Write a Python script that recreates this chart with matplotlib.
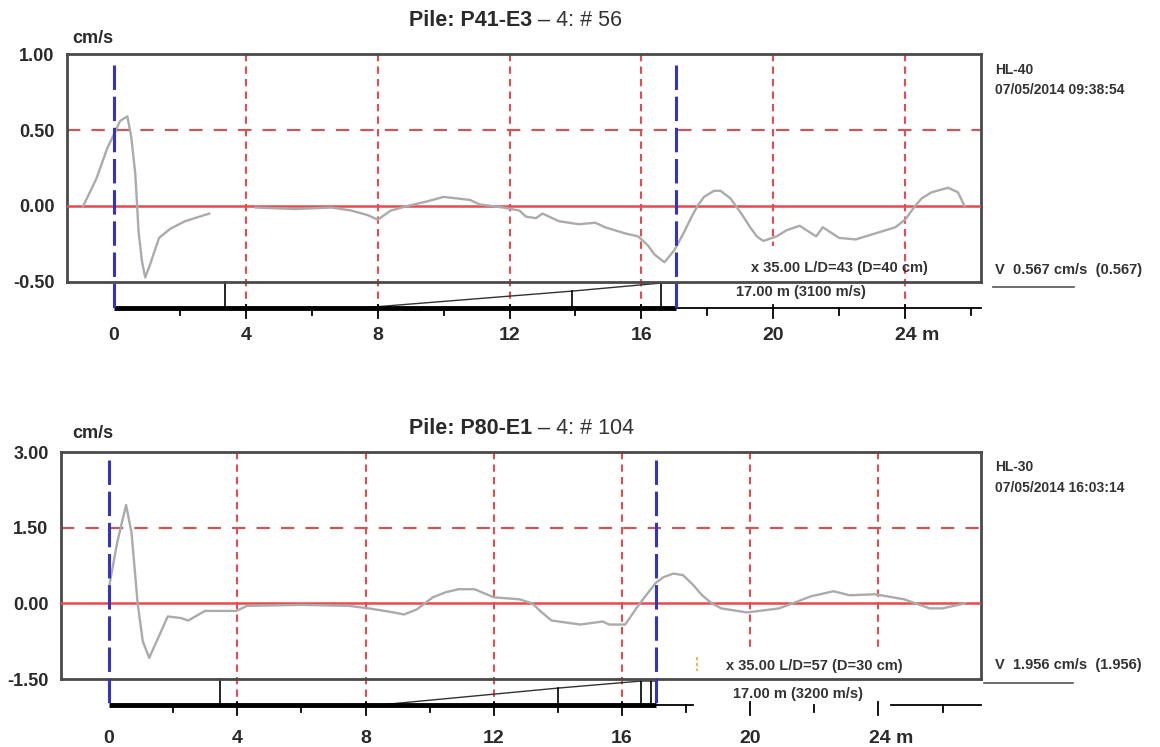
"""Two pile integrity (PIT) velocity traces, redrawn in matplotlib."""
import matplotlib
matplotlib.use("Agg")
import matplotlib.pyplot as plt
import numpy as np
from matplotlib.lines import Line2D

plt.rcParams["font.family"] = ["Liberation Sans", "DejaVu Sans"]

# ---------------------------------------------------------------- data ----
# top trace: P41-E3 (depth m, velocity cm/s); NaN = gap in the trace
top_x = [-0.93, -0.53, -0.2, 0.0, 0.19, 0.41, 0.53, 0.65, 0.75, 0.85, 0.95,
         1.09, 1.37, 1.71, 2.16, 2.89, np.nan, 4.3, 5.5, 6.6, 7.2, 7.7, 8.0,
         8.4, 8.9, 9.5, 10.0, 10.8, 11.1, 11.8, 12.3, 12.5, 12.8, 13.0, 13.5,
         14.1, 14.6, 14.9, 15.5, 15.9, 16.2, 16.4, 16.7, 17.0, 17.3, 17.5,
         17.7, 17.9, 18.2, 18.4, 18.7, 19.0, 19.3, 19.5, 19.7, 20.1, 20.4,
         20.8, 21.3, 21.5, 22.0, 22.5, 23.1, 23.7, 24.0, 24.3, 24.5, 24.8,
         25.3, 25.6, 25.8]
top_v = [0.0, 0.18, 0.38, 0.47, 0.56, 0.59, 0.45, 0.21, -0.17, -0.36, -0.47,
         -0.39, -0.21, -0.15, -0.10, -0.05, np.nan, -0.01, -0.02, -0.01, -0.03,
         -0.06, -0.09, -0.03, 0.0, 0.03, 0.06, 0.04, 0.01, -0.01, -0.03, -0.07,
         -0.08, -0.05, -0.10, -0.12, -0.11, -0.14, -0.18, -0.20, -0.26, -0.32,
         -0.37, -0.29, -0.17, -0.08, 0.0, 0.06, 0.10, 0.10, 0.05, -0.04,
         -0.14, -0.20, -0.23, -0.20, -0.16, -0.13, -0.20, -0.14, -0.21, -0.22,
         -0.18, -0.14, -0.09, 0.0, 0.05, 0.09, 0.12, 0.09, 0.0]

# bottom trace: P80-E1
bot_x = [0.0, 0.25, 0.53, 0.7, 0.89, 1.05, 1.25, 1.45, 1.83, 2.23, 2.47,
         2.99, 3.97, 4.3, 6.0, 7.5, 8.1, 8.7, 9.2, 9.6, 10.1, 10.5, 10.9, 11.4,
         12.0, 12.8, 13.2, 13.5, 13.8, 14.7, 15.4, 15.6, 16.1, 16.5, 16.8,
         17.06, 17.3, 17.6, 17.9, 18.2, 18.5, 18.8, 19.1, 19.9, 20.9, 21.9,
         22.6, 23.1, 23.9, 24.8, 25.6, 26.0, 26.7]
bot_v = [0.33, 1.2, 1.95, 1.4, 0.0, -0.75, -1.08, -0.8, -0.26, -0.29, -0.34,
         -0.15, -0.15, -0.05, -0.03, -0.05, -0.10, -0.16, -0.22, -0.12, 0.12,
         0.22, 0.28, 0.28, 0.12, 0.08, 0.0, -0.18, -0.34, -0.42, -0.36, -0.42,
         -0.42, -0.05, 0.2, 0.41, 0.52, 0.59, 0.56, 0.38, 0.16, 0.0, -0.10,
         -0.18, -0.10, 0.14, 0.24, 0.16, 0.18, 0.08, -0.10, -0.10, 0.0]

# pile profile sketch drawn under each box (depth m, value in axis units)
top_profile_x = [7.5, 13.9, 16.6, 17.06]
top_profile_v = [-0.671, -0.56, -0.507, -0.507]
top_drops = [3.37, 13.9, 16.6]
bot_profile_x = [8.5, 14.0, 16.6, 17.06]
bot_profile_v = [-2.01, -1.68, -1.54, -1.54]
bot_drops = [3.47, 14.0, 16.6, 16.9]

grid_depths = [4, 8, 12, 16, 20, 24]
ruler_labels = ["0", "4", "8", "12", "16", "20", "24 m"]
ruler_label_pos = [0, 4, 8, 12, 16, 20, 24]
toe_depth = 17.06

top_yticks = [1.00, 0.50, 0.00, -0.50]
bot_yticks = [3.00, 1.50, 0.00, -1.50]

RED = "#e64b50"
GRID_H = "#c65a5a"
BLUE = "#3434c4"
BOX = "#4a4a4a"
TRACE = "#ababab"
TXT = "#2a2a2a"

fig = plt.figure(figsize=(11.6, 7.47), dpi=100)

panels = [
    dict(rect=[0.0578, 0.6225, 0.7879, 0.3052], xlim=(-1.42, 26.3),
         ylim=(-0.5, 1.0), yticks=top_yticks, hline=0.5, ruler=-0.671,
         blue_top=0.93, x=top_x, v=top_v, px=top_profile_x, pv=top_profile_v,
         drops=top_drops, grid_stop={20: -0.26},
         name="Pile: P41-E3", tail=" – 4: # 56", title_y=0.972, unit_y=0.949,
         hl="HL-40", date="07/05/2014 09:38:54", hl_y=0.906, date_y=0.880,
         vtxt="V  0.567 cm/s  (0.567)", v_y=0.639, ul_y=0.616,
         ul_x=(0.856, 0.926),
         ld="x 35.00 L/D=43 (D=40 cm)", ld_xy=(22.0, -0.41),
         len_txt="17.00 m (3100 m/s)", len_xy=(20.85, -0.566),
         ruler_gap=None, mark=None, lab_off=-20),
    dict(rect=[0.0526, 0.0910, 0.7931, 0.3039], xlim=(-1.5, 27.2),
         ylim=(-1.5, 3.0), yticks=bot_yticks, hline=1.5, ruler=-2.01,
         blue_top=2.84, x=bot_x, v=bot_v, px=bot_profile_x, pv=bot_profile_v,
         drops=bot_drops, grid_stop={20: -0.91, 24: -0.91},
         name="Pile: P80-E1", tail=" – 4: # 104", title_y=0.427, unit_y=0.420,
         hl="HL-30", date="07/05/2014 16:03:14", hl_y=0.375, date_y=0.347,
         vtxt="V  1.956 cm/s  (1.956)", v_y=0.110, ul_y=0.0857,
         ul_x=(0.848, 0.925),
         ld="x 35.00 L/D=57 (D=30 cm)", ld_xy=(22.0, -1.24),
         len_txt="17.00 m (3200 m/s)", len_xy=(21.5, -1.80),
         ruler_gap=(18.2, 24.4), mark=(18.35, -1.07, -1.34), lab_off=-24),
]

for p in panels:
    ax = fig.add_axes(p["rect"])
    ax.set_xlim(*p["xlim"])
    ax.set_ylim(*p["ylim"])
    for s in ax.spines.values():
        s.set_color(BOX)
        s.set_linewidth(2)
    ax.set_xticks([])
    ax.set_yticks(p["yticks"])
    ax.set_yticklabels([f"{t:.2f}" for t in p["yticks"]], fontsize=13,
                       fontweight="bold", color=TXT)
    ax.tick_params(axis="y", length=0, pad=9)
    ymin, ymax = p["ylim"]
    span = ymax - ymin
    r = p["ruler"]
    xmax = p["xlim"][1]

    # grid
    ax.axhline(p["hline"], color=GRID_H, lw=1.6, dashes=(6, 5))
    for g in grid_depths:
        lo = p["grid_stop"].get(g, r)
        ax.plot([g, g], [ymax, lo], color=RED, lw=1.5, dashes=(3.5, 2.5),
                clip_on=False, zorder=2)
    ax.axhline(0, color=RED, lw=1.8, zorder=3)

    # trace
    ax.plot(p["x"], p["v"], color=TRACE, lw=1.7, zorder=4)

    # ruler / pile sketch under the box
    ax.plot([0, toe_depth], [r, r], color="black", lw=3.5, clip_on=False,
            solid_capstyle="butt", zorder=5)
    if p["ruler_gap"] is None:
        ax.plot([toe_depth, xmax], [r, r], color="black", lw=1.3,
                clip_on=False)
    else:
        a, b = p["ruler_gap"]
        ax.plot([toe_depth, a], [r, r], color="black", lw=1.3, clip_on=False)
        ax.plot([b, xmax], [r, r], color="black", lw=1.3, clip_on=False)
    ax.plot(p["px"], p["pv"], color="#333333", lw=1.0, clip_on=False)
    for d in p["drops"]:
        top = ymin if d < 5 else np.interp(d, p["px"], p["pv"])
        ax.plot([d, d], [top, r], color="black", lw=1.2, clip_on=False)
    for t in np.arange(2, xmax, 2):
        major = t % 4 == 0
        ln = 0.045 if major else 0.03
        ax.plot([t, t], [r + (0.012 * span if major else 0), r - ln * span],
                color="black", lw=1.3, clip_on=False)
    for lab, pos in zip(ruler_labels, ruler_label_pos):
        unit = lab.endswith("m")
        ax.annotate(lab, xy=(pos, r), xytext=(-7 if unit else 0, p["lab_off"]),
                    textcoords="offset points", ha="left" if unit else "center",
                    va="center", fontsize=14, fontweight="bold", color=TXT,
                    annotation_clip=False)

    # impact / toe markers
    for d in (0, toe_depth):
        ax.plot([d, d], [p["blue_top"], r], color=BLUE, lw=2.2,
                dashes=(8, 2.2), clip_on=False, zorder=6)

    # annotations inside/under the box
    ax.text(*p["ld_xy"], p["ld"], ha="center", va="center", fontsize=10.5,
            fontweight="bold", color="#333333")
    ax.text(*p["len_xy"], p["len_txt"], ha="center", va="center",
            fontsize=10.5, fontweight="bold", color="#333333", clip_on=False)
    if p["mark"]:
        mx, m0, m1 = p["mark"]
        ax.plot([mx, mx], [m0, m1], color="#e3a64a", lw=1.2, dashes=(2, 1.5))

    # header and side texts
    fig.text(0.459, p["title_y"], p["name"], ha="right", va="center",
             fontsize=15.5, fontweight="bold", color=TXT)
    fig.text(0.459, p["title_y"], p["tail"], ha="left", va="center",
             fontsize=15.5, color="#333333")
    fig.text(0.062, p["unit_y"], "cm/s", ha="left", va="center", fontsize=13,
             fontweight="bold", color=TXT)
    fig.text(0.858, p["hl_y"], p["hl"], ha="left", va="center", fontsize=10,
             fontweight="bold", color="#333333")
    fig.text(0.858, p["date_y"], p["date"], ha="left", va="center",
             fontsize=10, fontweight="bold", color="#333333")
    fig.text(0.858, p["v_y"], p["vtxt"], ha="left", va="center", fontsize=10.5,
             fontweight="bold", color="#333333")
    fig.add_artist(Line2D(list(p["ul_x"]), [p["ul_y"]] * 2, color="#555555",
                          lw=1.2))

fig.savefig("out.png", dpi=100)
